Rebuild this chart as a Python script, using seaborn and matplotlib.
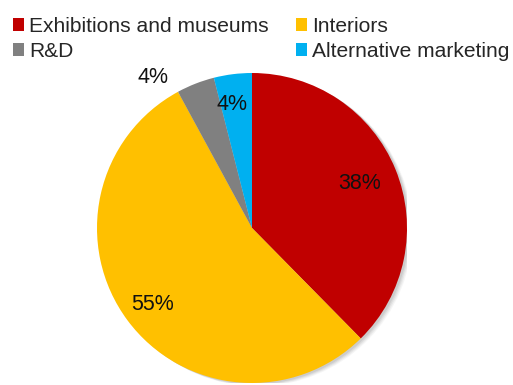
import numpy as np
import matplotlib
matplotlib.use("Agg")
import matplotlib.pyplot as plt
from matplotlib.patches import Circle
import seaborn as sns

categories = ["Exhibitions and museums", "Interiors", "R&D", "Alternative marketing"]
values = [38, 55, 4, 4]
labels = ["38%", "55%", "4%", "4%"]
colors = ["#C00000", "#FFC000", "#808080", "#00B0F0"]

sns.set_theme(style="white")
plt.rcParams["font.family"] = ["Liberation Sans", "DejaVu Sans"]

fig = plt.figure(figsize=(5.13, 3.85), dpi=100)
W, H = 513, 385
cx, cy, r = 252, 228, 155
ax = fig.add_axes([(cx - r) / W, (H - cy - r) / H, 2 * r / W, 2 * r / H])

# soft shadow behind the pie
for k, a in enumerate([0.06, 0.08, 0.10, 0.12]):
    off = 0.035 - k * 0.007
    ax.add_patch(Circle((off, -off * 0.6), 1.0, facecolor="#606060", alpha=a,
                        linewidth=0, zorder=0))

wedges, _ = ax.pie(values, colors=colors, startangle=90, counterclock=False,
                   radius=1.0, wedgeprops=dict(linewidth=0, zorder=2))
ax.set_xlim(-1, 1)
ax.set_ylim(-1, 1)
ax.set_aspect("equal")
ax.axis("off")

# label placement: (radius, angle offset in degrees)
place = [(0.75, 0.0), (0.81, 1.0), (1.16, 12.0), (0.81, 2.0)]
for w, lab, (rr, off) in zip(wedges, labels, place):
    ang = np.deg2rad((w.theta1 + w.theta2) / 2 + off)
    ax.text(rr * np.cos(ang), rr * np.sin(ang), lab, ha="center", va="center",
            fontsize=15.5, color="#111111", zorder=3)

order = [0, 2, 1, 3]
leg = fig.legend([wedges[i] for i in order], [categories[i] for i in order],
                 ncol=2, loc="upper left", bbox_to_anchor=(13 / W, 1 - 17 / H),
                 frameon=False, fontsize=15.1, handlelength=0.52, handleheight=0.52,
                 handletextpad=0.24, columnspacing=1.32, labelspacing=0.28,
                 borderpad=0, borderaxespad=0)

fig.savefig("out.png", dpi=100, facecolor="white")
